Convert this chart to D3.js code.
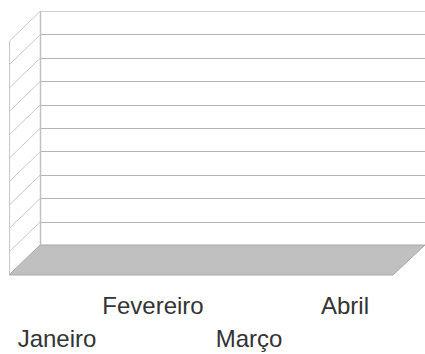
<!DOCTYPE html>
<html>
<head>
<meta charset="utf-8">
<script src="https://cdn.jsdelivr.net/npm/d3@7"></script>
<style>
  html, body { margin: 0; padding: 0; background: #fff; }
  svg { display: block; }
</style>
</head>
<body>
<svg id="chart" width="425" height="354"></svg>
<script>
// Categories along the x axis
const categories = ["Janeiro", "Fevereiro", "Março", "Abril"];
// Series values (no data entered yet)
const values = [null, null, null, null];
// Value axis gridline ticks (unlabelled)
const yTicks = [0, 1, 2, 3, 4, 5, 6, 7, 8, 9, 10];

const svg = d3.select("#chart");

// 3-D depth offset of the back wall relative to the front plane
const depth = { dx: 31, dy: 30 };

// Front plane category scale
const x = d3.scaleBand().domain(categories).range([9, 393]);
// Value scale on the back wall
const y = d3.scaleLinear().domain([0, 10]).range([245, 11]);
const backRight = 425;

const g = svg.append("g");

// Floor (parallelogram)
const x0 = x.range()[0], x1 = x.range()[1];
g.append("path")
  .attr("d", `M${x0 + depth.dx},${y(0)} L${backRight},${y(0)} L${x1},${y(0) + depth.dy} L${x0},${y(0) + depth.dy} Z`)
  .attr("fill", "#c0c0c0")
  .attr("stroke", "#a8a8a8")
  .attr("stroke-width", 1);

// Back wall gridlines
g.selectAll("line.grid").data(yTicks.filter(t => t > 0)).join("line")
  .attr("class", "grid")
  .attr("x1", x0 + depth.dx).attr("x2", backRight)
  .attr("y1", d => Math.round(y(d)) + 0.5).attr("y2", d => Math.round(y(d)) + 0.5)
  .attr("stroke", d => d === 10 ? "#d0d0d0" : "#b3b3b3")
  .attr("stroke-width", 1);

// Side wall diagonal gridlines
g.selectAll("line.side").data(yTicks.filter(t => t > 0)).join("line")
  .attr("class", "side")
  .attr("x1", x0 + 0.5).attr("y1", d => y(d) + depth.dy)
  .attr("x2", x0 + depth.dx + 0.5).attr("y2", d => y(d))
  .attr("stroke", "#c8c8c8")
  .attr("stroke-width", 1);

// Side wall vertical edges
g.append("line")
  .attr("x1", x0 + 0.5).attr("x2", x0 + 0.5)
  .attr("y1", y(10) + depth.dy).attr("y2", y(0) + depth.dy)
  .attr("stroke", "#c8c8c8");
g.append("line")
  .attr("x1", x0 + depth.dx + 0.5).attr("x2", x0 + depth.dx + 0.5)
  .attr("y1", y(10)).attr("y2", y(0))
  .attr("stroke", "#c0c0c0").attr("stroke-width", 1.5);

// Category labels, staggered on two rows
g.selectAll("text.cat").data(categories).join("text")
  .attr("class", "cat")
  .attr("x", d => x(d) + x.bandwidth() / 2)
  .attr("y", (d, i) => i % 2 === 0 ? 347 : 314)
  .attr("text-anchor", "middle")
  .attr("font-family", "Liberation Sans, Arial, sans-serif")
  .attr("font-size", 24)
  .attr("fill", "#333")
  .text(d => d);
</script>
</body>
</html>
